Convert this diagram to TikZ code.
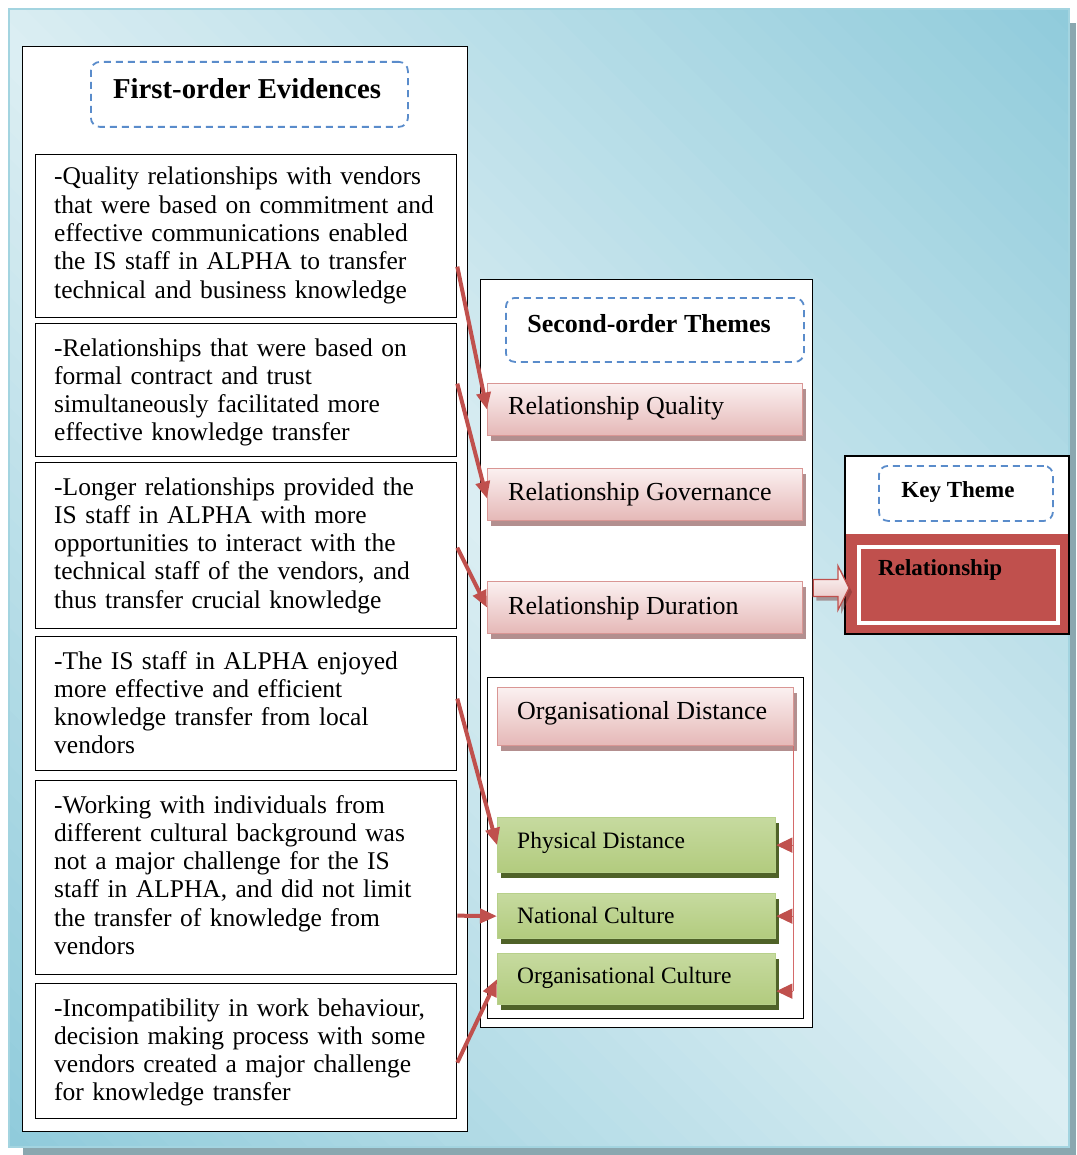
\documentclass[tikz,border=0pt]{standalone}
\usepackage{fontspec}
\setmainfont{Liberation Serif}
\usetikzlibrary{arrows.meta,shadows,calc}

\definecolor{bgdark}{HTML}{8FCBDB}
\definecolor{bglight}{HTML}{DCEEF3}
\definecolor{bgedge}{HTML}{A3D4E0}
\definecolor{bgshadow}{HTML}{8AA7AF}
\definecolor{accent}{HTML}{C0504D}
\definecolor{dashblue}{HTML}{5A8CCB}
\definecolor{pinktop}{HTML}{FBF0F0}
\definecolor{pinkbot}{HTML}{E5B8B7}
\definecolor{pinkedge}{HTML}{D99694}
\definecolor{pinkshadow}{HTML}{B38F8F}
\definecolor{greentop}{HTML}{C6DA9F}
\definecolor{greenmid}{HTML}{9DBD5C}
\definecolor{greenbot}{HTML}{B2CB7E}
\definecolor{greenedge}{HTML}{B7D08A}
\definecolor{greenshadow}{HTML}{4F6228}
\definecolor{linkred}{HTML}{D46A6A}

\begin{document}
\begin{tikzpicture}[x=1pt,y=-1pt,
  panel/.style={draw=black, line width=1.3pt, fill=white, inner sep=0, anchor=north west},
  evbox/.style={draw=black, line width=1.3pt, fill=white, inner sep=0, anchor=north west, minimum width=421pt},
  evtext/.style={anchor=base west, align=left, text width=400pt, inner sep=0,
    font=\fontsize{25.5pt}{28.3pt}\selectfont},
  headbox/.style={draw=dashblue, line width=1.8pt, dash pattern=on 7pt off 5pt,
    rounded corners=9pt, inner sep=0, anchor=north west},
  headtext/.style={anchor=base, inner sep=0},
  themebox/.style={draw=pinkedge, line width=1.3pt, top color=pinktop, bottom color=pinkbot,
    drop shadow={shadow xshift=3.5pt, shadow yshift=-5.5pt, fill=pinkshadow, opacity=1},
    inner sep=0, anchor=north west},
  subbox/.style={draw=greenedge, line width=1.3pt, top color=greentop, middle color=greenmid,
    bottom color=greenbot,
    drop shadow={shadow xshift=3.5pt, shadow yshift=-5pt, fill=greenshadow, opacity=1},
    inner sep=0, anchor=north west, minimum width=278pt},
  themelabel/.style={anchor=base west, inner sep=0, font=\fontsize{26pt}{30pt}\selectfont},
  sublabel/.style={anchor=base west, inner sep=0, font=\fontsize{23.5pt}{28pt}\selectfont},
  link/.style={draw=accent, line width=4pt, -{Triangle[length=17pt,width=14pt]}},
  thinlink/.style={draw=linkred, line width=1.3pt},
  thinarrow/.style={draw=linkred, line width=1.3pt,
    -{Triangle[length=16pt,width=15pt,fill=accent,color=accent]}}
]
\useasboundingbox (0,0) rectangle (1076,1155);

% backdrop: shadow, then a diagonal gradient (dark corners top right and
% bottom left, light along the other diagonal) built from thin bands
\fill[bgshadow] (23,23) rectangle (1076,1155);
\begin{scope}
  \clip (9,9) rectangle (1069,1147);
  \foreach \i in {0,...,79} {
    \pgfmathsetmacro\ta{-780+\i*19.5}
    \pgfmathsetmacro\tb{\ta+21}
    \pgfmathsetmacro\f{min(100,abs(\ta+9.75)/780*100)}
    \fill[bgdark!\f!bglight]
      ({539+0.7071*\ta-640},{578-0.7071*\ta-640}) --
      ({539+0.7071*\tb-640},{578-0.7071*\tb-640}) --
      ({539+0.7071*\tb+640},{578-0.7071*\tb+640}) --
      ({539+0.7071*\ta+640},{578-0.7071*\ta+640}) -- cycle;
  }
\end{scope}
\draw[bgedge, line width=1.5pt] (9,9) rectangle (1069,1147);

% ---------- first-order evidences ----------
\node[panel, minimum width=445pt, minimum height=1085pt] (fo) at (22,46) {};
\node[headbox, minimum width=317pt, minimum height=65pt] (fohead) at (90,61) {};
\node[headtext, font=\bfseries\fontsize{28.8pt}{32pt}\selectfont] (fotitle) at (247,99) {First-order Evidences};

\node[evbox, minimum height=163pt] (ev1) at (35,154) {};
\node[evtext] (ev1t) at (54,185) {-Quality relationships with vendors\\
that were based on commitment and\\
effective communications enabled\\
the IS staff in ALPHA to transfer\\
technical and business knowledge};

\node[evbox, minimum height=133pt] (ev2) at (35,323) {};
\node[evtext] (ev2t) at (54,356) {-Relationships that were based on\\
formal contract and trust\\
simultaneously facilitated more\\
effective knowledge transfer};

\node[evbox, minimum height=166pt] (ev3) at (35,462) {};
\node[evtext] (ev3t) at (54,495) {-Longer relationships provided the\\
IS staff in ALPHA with more\\
opportunities to interact with the\\
technical staff of the vendors, and\\
thus transfer crucial knowledge};

\node[evbox, minimum height=134pt] (ev4) at (35,636) {};
\node[evtext] (ev4t) at (54,669) {-The IS staff in ALPHA enjoyed\\
more effective and efficient\\
knowledge transfer from local\\
vendors};

\node[evbox, minimum height=194pt] (ev5) at (35,780) {};
\node[evtext] (ev5t) at (54,813) {-Working with individuals from\\
different cultural background was\\
not a major challenge for the IS\\
staff in ALPHA, and did not limit\\
the transfer of knowledge from\\
vendors};

\node[evbox, minimum height=135pt] (ev6) at (35,983) {};
\node[evtext] (ev6t) at (54,1016) {-Incompatibility in work behaviour,\\
decision making process with some\\
vendors created a major challenge\\
for knowledge transfer};

% ---------- second-order themes ----------
\node[panel, minimum width=332pt, minimum height=748pt] (so) at (480,279) {};
\node[headbox, minimum width=298pt, minimum height=64pt] (sohead) at (505,297) {};
\node[headtext, font=\bfseries\fontsize{26pt}{30pt}\selectfont] (sotitle) at (649,332) {Second-order Themes};

\node[themebox, minimum width=315pt, minimum height=52pt] (rq) at (487,383) {};
\node[themelabel] (rqt) at (508,414) {Relationship Quality};
\node[themebox, minimum width=315pt, minimum height=52pt] (rg) at (487,468) {};
\node[themelabel] (rgt) at (508,500) {Relationship Governance};
\node[themebox, minimum width=315pt, minimum height=52pt] (rd) at (487,581) {};
\node[themelabel] (rdt) at (508,614) {Relationship Duration};

\node[panel, minimum width=316pt, minimum height=341pt] (odframe) at (487,677) {};
\node[themebox, minimum width=296pt, minimum height=58pt] (od) at (497,687) {};
\node[themelabel] (odt) at (517,719) {Organisational Distance};

\node[subbox, minimum height=55pt] (pd) at (497,817) {};
\node[sublabel] (pdt) at (517,848) {Physical Distance};
\node[subbox, minimum height=45pt] (nc) at (497,893) {};
\node[sublabel] (nct) at (517,923) {National Culture};
\node[subbox, minimum height=51pt] (oc) at (497,953) {};
\node[sublabel] (oct) at (517,983) {Organisational Culture};

% organisational distance splits into its three parts
\coordinate (odtap) at ([xshift=-1pt]od.south east);
\coordinate (ocin) at ([yshift=-12pt]oc.east);
\draw[thinlink] (odtap) -- (odtap |- ocin);
\draw[thinarrow] (odtap |- pd.east) -- (pd.east);
\draw[thinarrow] (odtap |- nc.east) -- (nc.east);
\draw[thinarrow] (odtap |- ocin) -- (ocin);

% ---------- key theme ----------
\node[panel, minimum width=223pt, minimum height=177pt] (kt) at (845,456) {};
\node[fill=accent, inner sep=0, anchor=north west, minimum width=223pt, minimum height=99pt] (keyrel) at (845,534) {};
\draw[line width=1.3pt] (kt.north west) rectangle (kt.south east);
\node[draw=white, line width=3.5pt, inner sep=0, anchor=north west, minimum width=199pt, minimum height=76pt] (keyframe) at (857,545) {};
\node[headbox, minimum width=174pt, minimum height=55pt] (kthead) at (878,465) {};
\node[headtext, font=\bfseries\fontsize{23pt}{27pt}\selectfont] (kttitle) at (958,497) {Key Theme};
\node[anchor=base west, inner sep=0, font=\bfseries\fontsize{23pt}{27pt}\selectfont] (keyrelt) at (878,575) {Relationship};

% block arrow from the themes to the key theme
\coordinate (batail) at (so.east |- 0,588);
\coordinate (batip) at ([xshift=4pt]kt.west |- 0,588);
\filldraw[draw=accent, line width=1.2pt, top color=white, bottom color=pinkbot,
  drop shadow={shadow xshift=3pt, shadow yshift=-4pt, fill=accent!60!black, opacity=0.45}]
  ($(batail)+(0,-8.5)$) -- ($(batip)+(-11,-8.5)$) -- ($(batip)+(-11,-22)$) -- (batip)
  -- ($(batip)+(-11,22)$) -- ($(batip)+(-11,8.5)$) -- ($(batail)+(0,8.5)$) -- cycle;

% ---------- evidence to theme links ----------
\draw[link] ([yshift=-30.5pt]ev1.east) -- (rq.west);
\draw[link] ([yshift=6.5pt]ev2.east) -- ([yshift=-4pt]rg.west);
\draw[link] ([yshift=-2pt]ev3.east) -- (rd.west);
\draw[link] ([yshift=5pt]ev4.east) -- (pd.west);
\draw[link] ([yshift=-38pt]ev5.east) -- (nc.west);
\draw[link] ([yshift=-11.5pt]ev6.east) -- (oc.west);
\end{tikzpicture}
\end{document}
